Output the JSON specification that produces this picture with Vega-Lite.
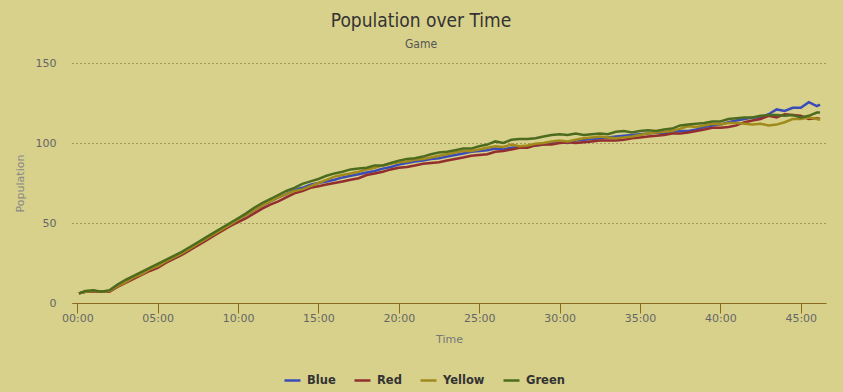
{
  "$schema": "https://vega.github.io/schema/vega-lite/v6.json",
  "autosize": "none",
  "width": 754,
  "height": 240,
  "padding": {"left": 72, "top": 63, "right": 17, "bottom": 89},
  "background": "#d8d18b",
  "title": {
    "text": "Population over Time",
    "subtitle": "Game",
    "anchor": "middle",
    "dx": -28,
    "offset": 7,
    "font": "DejaVu Sans Condensed",
    "fontSize": 19,
    "fontWeight": "normal",
    "color": "#333333",
    "subtitleFont": "DejaVu Sans Condensed",
    "subtitleFontSize": 12,
    "subtitleColor": "#555555",
    "subtitlePadding": 8
  },
  "config": {
    "view": {"stroke": null},
    "axis": {"labelFont": "DejaVu Sans", "titleFont": "DejaVu Sans"}
  },
  "data": {
    "values": [
      {"t": 0.1, "Blue": 6, "Red": 6, "Yellow": 6, "Green": 6},
      {"t": 0.5, "Blue": 7, "Red": 7, "Yellow": 7, "Green": 7.5},
      {"t": 1, "Blue": 7.5, "Red": 7, "Yellow": 7.5, "Green": 8},
      {"t": 1.5, "Blue": 7, "Red": 7, "Yellow": 7, "Green": 7},
      {"t": 2, "Blue": 7.5, "Red": 7, "Yellow": 7.5, "Green": 8},
      {"t": 2.5, "Blue": 11, "Red": 10, "Yellow": 10.5, "Green": 11.5},
      {"t": 3, "Blue": 13.5, "Red": 12.5, "Yellow": 13, "Green": 14.5},
      {"t": 3.5, "Blue": 16, "Red": 15, "Yellow": 16, "Green": 17},
      {"t": 4, "Blue": 18.5, "Red": 17.5, "Yellow": 18, "Green": 19.5},
      {"t": 4.5, "Blue": 21, "Red": 20, "Yellow": 21, "Green": 22},
      {"t": 5, "Blue": 23, "Red": 22, "Yellow": 23, "Green": 24.5},
      {"t": 5.5, "Blue": 26, "Red": 25, "Yellow": 26, "Green": 27},
      {"t": 6, "Blue": 28.5, "Red": 27.5, "Yellow": 28.5, "Green": 29.5},
      {"t": 6.5, "Blue": 31, "Red": 30, "Yellow": 31, "Green": 32},
      {"t": 7, "Blue": 34, "Red": 33, "Yellow": 34, "Green": 35},
      {"t": 7.5, "Blue": 37, "Red": 36, "Yellow": 37, "Green": 38},
      {"t": 8, "Blue": 40, "Red": 39, "Yellow": 40, "Green": 41},
      {"t": 8.5, "Blue": 43, "Red": 42, "Yellow": 43, "Green": 44},
      {"t": 9, "Blue": 46, "Red": 45, "Yellow": 46, "Green": 47},
      {"t": 9.5, "Blue": 49, "Red": 48, "Yellow": 49, "Green": 50},
      {"t": 10, "Blue": 52, "Red": 50.5, "Yellow": 52, "Green": 53},
      {"t": 10.5, "Blue": 55, "Red": 53, "Yellow": 55, "Green": 56},
      {"t": 11, "Blue": 58, "Red": 56, "Yellow": 58, "Green": 59.5},
      {"t": 11.5, "Blue": 61, "Red": 59, "Yellow": 61, "Green": 62.5},
      {"t": 12, "Blue": 63.5, "Red": 61.5, "Yellow": 63.5, "Green": 65},
      {"t": 12.5, "Blue": 66, "Red": 63.5, "Yellow": 66, "Green": 67.5},
      {"t": 13, "Blue": 68, "Red": 66, "Yellow": 68, "Green": 70},
      {"t": 13.5, "Blue": 70.5, "Red": 68.5, "Yellow": 70, "Green": 72},
      {"t": 14, "Blue": 72, "Red": 70, "Yellow": 71, "Green": 74.5},
      {"t": 14.5, "Blue": 74, "Red": 72, "Yellow": 73, "Green": 76},
      {"t": 15, "Blue": 75, "Red": 73, "Yellow": 75, "Green": 77.5},
      {"t": 15.5, "Blue": 76, "Red": 74, "Yellow": 77, "Green": 79.5},
      {"t": 16, "Blue": 77, "Red": 75, "Yellow": 79, "Green": 81},
      {"t": 16.5, "Blue": 78.5, "Red": 76, "Yellow": 80, "Green": 82},
      {"t": 17, "Blue": 79.5, "Red": 77, "Yellow": 81, "Green": 83.5},
      {"t": 17.5, "Blue": 80.5, "Red": 78, "Yellow": 82, "Green": 84},
      {"t": 18, "Blue": 81.5, "Red": 80, "Yellow": 83.5, "Green": 84.5},
      {"t": 18.5, "Blue": 82.5, "Red": 81, "Yellow": 84.5, "Green": 86},
      {"t": 19, "Blue": 84, "Red": 82, "Yellow": 86, "Green": 86},
      {"t": 19.5, "Blue": 85, "Red": 83.5, "Yellow": 87, "Green": 87.5},
      {"t": 20, "Blue": 86.5, "Red": 84.5, "Yellow": 88, "Green": 89},
      {"t": 20.5, "Blue": 87.5, "Red": 85, "Yellow": 88.5, "Green": 90},
      {"t": 21, "Blue": 88.5, "Red": 86, "Yellow": 89.5, "Green": 90.5},
      {"t": 21.5, "Blue": 89, "Red": 87, "Yellow": 90, "Green": 91.5},
      {"t": 22, "Blue": 90, "Red": 87.5, "Yellow": 91, "Green": 93},
      {"t": 22.5, "Blue": 90.5, "Red": 88, "Yellow": 92, "Green": 94},
      {"t": 23, "Blue": 91.5, "Red": 89, "Yellow": 93, "Green": 94.5},
      {"t": 23.5, "Blue": 92.5, "Red": 90, "Yellow": 94, "Green": 95.5},
      {"t": 24, "Blue": 93.5, "Red": 91, "Yellow": 95, "Green": 96.5},
      {"t": 24.5, "Blue": 94.5, "Red": 92, "Yellow": 95, "Green": 96.5},
      {"t": 25, "Blue": 95, "Red": 92.5, "Yellow": 96, "Green": 98},
      {"t": 25.5, "Blue": 95.5, "Red": 93, "Yellow": 97, "Green": 99},
      {"t": 26, "Blue": 96.5, "Red": 94.5, "Yellow": 98, "Green": 101},
      {"t": 26.5, "Blue": 96, "Red": 95, "Yellow": 97.5, "Green": 100},
      {"t": 27, "Blue": 97, "Red": 96, "Yellow": 99, "Green": 102},
      {"t": 27.5, "Blue": 97.5, "Red": 97, "Yellow": 98, "Green": 102.5},
      {"t": 28, "Blue": 98, "Red": 97, "Yellow": 98.5, "Green": 102.5},
      {"t": 28.5, "Blue": 98.5, "Red": 98.5, "Yellow": 99.5, "Green": 103},
      {"t": 29, "Blue": 99, "Red": 99, "Yellow": 100, "Green": 104},
      {"t": 29.5, "Blue": 100, "Red": 99, "Yellow": 101, "Green": 105},
      {"t": 30, "Blue": 100.5, "Red": 100, "Yellow": 101.5, "Green": 105.5},
      {"t": 30.5, "Blue": 100, "Red": 100.5, "Yellow": 101, "Green": 105},
      {"t": 31, "Blue": 101.5, "Red": 100, "Yellow": 102, "Green": 106},
      {"t": 31.5, "Blue": 102, "Red": 100.5, "Yellow": 103, "Green": 105},
      {"t": 32, "Blue": 102.5, "Red": 101, "Yellow": 103.5, "Green": 105.5},
      {"t": 32.5, "Blue": 103, "Red": 101.5, "Yellow": 104, "Green": 106},
      {"t": 33, "Blue": 103.5, "Red": 101.5, "Yellow": 103.5, "Green": 105.5},
      {"t": 33.5, "Blue": 104, "Red": 101.5, "Yellow": 103, "Green": 107},
      {"t": 34, "Blue": 104.5, "Red": 102, "Yellow": 103.5, "Green": 107.5},
      {"t": 34.5, "Blue": 105, "Red": 103, "Yellow": 104, "Green": 106.5},
      {"t": 35, "Blue": 105.5, "Red": 103.5, "Yellow": 105, "Green": 107.5},
      {"t": 35.5, "Blue": 106, "Red": 104, "Yellow": 106, "Green": 108},
      {"t": 36, "Blue": 106.5, "Red": 104.5, "Yellow": 106.5, "Green": 107.5},
      {"t": 36.5, "Blue": 106, "Red": 105, "Yellow": 107, "Green": 108.5},
      {"t": 37, "Blue": 107, "Red": 106, "Yellow": 107.5, "Green": 109},
      {"t": 37.5, "Blue": 107.5, "Red": 106, "Yellow": 109, "Green": 111},
      {"t": 38, "Blue": 107.5, "Red": 106.5, "Yellow": 110.5, "Green": 111.5},
      {"t": 38.5, "Blue": 108.5, "Red": 107.5, "Yellow": 110, "Green": 112},
      {"t": 39, "Blue": 110, "Red": 108.5, "Yellow": 111, "Green": 112.5},
      {"t": 39.5, "Blue": 111, "Red": 109.5, "Yellow": 112, "Green": 113.5},
      {"t": 40, "Blue": 111.5, "Red": 109.5, "Yellow": 111.5, "Green": 113.5},
      {"t": 40.5, "Blue": 113, "Red": 110, "Yellow": 112.5, "Green": 115},
      {"t": 41, "Blue": 114, "Red": 111, "Yellow": 112.5, "Green": 115.5},
      {"t": 41.5, "Blue": 115, "Red": 113, "Yellow": 112, "Green": 116},
      {"t": 42, "Blue": 116, "Red": 114, "Yellow": 111.5, "Green": 116},
      {"t": 42.5, "Blue": 116, "Red": 115, "Yellow": 112, "Green": 117},
      {"t": 43, "Blue": 118, "Red": 117, "Yellow": 111, "Green": 117.5},
      {"t": 43.5, "Blue": 121, "Red": 116, "Yellow": 111.5, "Green": 117.5},
      {"t": 44, "Blue": 120, "Red": 118, "Yellow": 113, "Green": 117},
      {"t": 44.5, "Blue": 122, "Red": 117.5, "Yellow": 115, "Green": 117.5},
      {"t": 45, "Blue": 122, "Red": 117, "Yellow": 115, "Green": 116},
      {"t": 45.5, "Blue": 125.5, "Red": 115, "Yellow": 116, "Green": 117},
      {"t": 46, "Blue": 123, "Red": 115.5, "Yellow": 115, "Green": 119},
      {"t": 46.2, "Blue": 124, "Red": 115, "Yellow": 114.5, "Green": 119}
    ]
  },
  "transform": [
    {"fold": ["Blue", "Red", "Yellow", "Green"], "as": ["series", "population"]}
  ],
  "mark": {"type": "line", "strokeWidth": 2.5, "interpolate": "linear"},
  "encoding": {
    "x": {
      "field": "t",
      "type": "quantitative",
      "title": "Time",
      "scale": {"domain": [-0.33, 46.57], "nice": false, "zero": false},
      "axis": {
        "values": [0, 5, 10, 15, 20, 25, 30, 35, 40, 45],
        "labelExpr": "(datum.value < 10 ? '0' : '') + datum.value + ':00'",
        "grid": false,
        "domainColor": "#8a6a1e",
        "domainWidth": 1,
        "tickColor": "#8a6a1e",
        "tickSize": 10,
        "labelPadding": -1,
        "labelFontSize": 11,
        "labelColor": "#666666",
        "titleFontSize": 11,
        "titleFontWeight": "normal",
        "titleColor": "#777777",
        "titlePadding": 10
      }
    },
    "y": {
      "field": "population",
      "type": "quantitative",
      "title": "Population",
      "scale": {"domain": [0, 150], "nice": false},
      "axis": {
        "values": [0, 50, 100, 150],
        "domain": false,
        "ticks": false,
        "labelPadding": 16,
        "labelFontSize": 11,
        "labelColor": "#666666",
        "gridColor": "#6e5c2a",
        "gridDash": [1, 3],
        "gridWidth": 1,
        "titleFontSize": 11,
        "titleFontWeight": "normal",
        "titleColor": "#888888",
        "titlePadding": 10
      }
    },
    "color": {
      "field": "series",
      "type": "nominal",
      "scale": {
        "domain": ["Blue", "Red", "Yellow", "Green"],
        "range": ["#3a4cb8", "#922e2e", "#a08a1c", "#4d6b1f"]
      },
      "legend": {
        "title": null,
        "orient": "none",
        "direction": "horizontal",
        "legendX": 211,
        "legendY": 308,
        "symbolType": "stroke",
        "symbolSize": 256,
        "symbolStrokeWidth": 2.5,
        "labelFont": "DejaVu Sans",
        "labelFontSize": 11.5,
        "labelFontWeight": "bold",
        "labelColor": "#333333",
        "labelOffset": 5,
        "columnPadding": 13
      }
    }
  }
}
